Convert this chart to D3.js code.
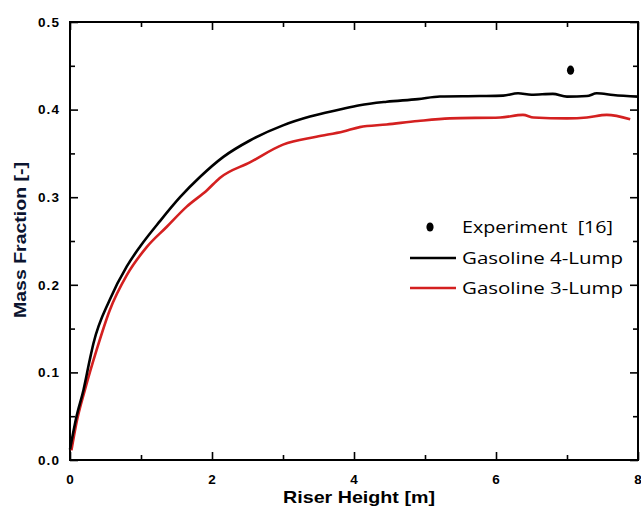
<!DOCTYPE html>
<html>
<head>
<meta charset="utf-8">
<script src="https://cdn.jsdelivr.net/npm/d3@7"></script>
<style>
  body { margin: 0; background: #fff; }
  svg { display: block; }
</style>
</head>
<body>
<div id="chart"></div>
<script>
// 4-lump model (black)
const lump4X = [0, 0.09, 0.19, 0.28, 0.33, 0.56, 0.8, 0.99, 1.27, 1.55, 1.83, 2.16, 2.54, 3.0, 3.38, 3.8, 4.08, 4.46, 4.9, 5.21, 5.77, 6.1, 6.31, 6.5, 6.8, 7.0, 7.28, 7.42, 7.65, 8.0];
const lump4Y = [0.012, 0.049, 0.08, 0.115, 0.133, 0.183, 0.221, 0.244, 0.273, 0.300, 0.323, 0.346, 0.365, 0.382, 0.392, 0.400, 0.405, 0.409, 0.412, 0.415, 0.4155, 0.416, 0.4186, 0.417, 0.418, 0.4148, 0.4155, 0.4186, 0.4167, 0.4148];
// 3-lump model (red)
const lump3X = [0.02, 0.09, 0.21, 0.376, 0.56, 0.8, 1.08, 1.36, 1.64, 1.93, 2.11, 2.54, 3.0, 3.47, 3.85, 4.08, 4.46, 4.9, 5.35, 6.06, 6.38, 6.53, 7.0, 7.28, 7.56, 7.89];
const lump3Y = [0.011, 0.042, 0.08, 0.126, 0.171, 0.211, 0.243, 0.266, 0.289, 0.308, 0.322, 0.340, 0.360, 0.369, 0.375, 0.380, 0.383, 0.387, 0.390, 0.391, 0.394, 0.391, 0.390, 0.391, 0.394, 0.389];
// experiment [16]
const expX = [7.05];
const expY = [0.445];

const xMajor = [0, 2, 4, 6, 8];
const xMinor = [1, 3, 5, 7];
const yMajor = [0, 0.1, 0.2, 0.3, 0.4, 0.5];
const yMinor = [0.05, 0.15, 0.25, 0.35, 0.45];

const width = 641, height = 506;
const plotL = 70, plotR = 638, plotT = 22, plotB = 460;

const svg = d3.select("#chart").append("svg")
    .attr("width", width)
    .attr("height", height);

const x = d3.scaleLinear().domain([0, 8]).range([plotL, plotR]);
const y = d3.scaleLinear().domain([0, 0.5]).range([plotB, plotT]);

const tickFont = "'Liberation Sans', Arial, sans-serif";

// axes: ticks point inward on all four sides
function addAxis(axis, tx, ty, labels) {
  const g = svg.append("g")
      .attr("transform", `translate(${tx},${ty})`)
      .call(axis);
  g.select(".domain").remove();
  g.selectAll(".tick line").attr("stroke", "#000").attr("stroke-width", 1.6);
  if (!labels) g.selectAll(".tick text").remove();
  else g.selectAll(".tick text")
      .attr("font-family", tickFont)
      .attr("font-weight", "bold")
      .attr("font-size", 13.5)
      .attr("letter-spacing", 1.1)
      .attr("fill", "#000");
  return g;
}

addAxis(d3.axisBottom(x).tickValues(xMajor).tickSize(-8).tickPadding(14).tickFormat(d3.format("d")), 0, plotB, true);
addAxis(d3.axisBottom(x).tickValues(xMinor).tickSize(-5), 0, plotB, false);
addAxis(d3.axisTop(x).tickValues(xMajor).tickSize(-8), 0, plotT, false);
addAxis(d3.axisTop(x).tickValues(xMinor).tickSize(-5), 0, plotT, false);
addAxis(d3.axisLeft(y).tickValues(yMajor).tickSize(-8).tickPadding(10).tickFormat(d3.format(".1f")), plotL, 0, true);
addAxis(d3.axisLeft(y).tickValues(yMinor).tickSize(-5), plotL, 0, false);
addAxis(d3.axisRight(y).tickValues(yMajor).tickSize(-8), plotR, 0, false);
addAxis(d3.axisRight(y).tickValues(yMinor).tickSize(-5), plotR, 0, false);

svg.append("rect")
    .attr("x", plotL).attr("y", plotT)
    .attr("width", plotR - plotL).attr("height", plotB - plotT)
    .attr("fill", "none").attr("stroke", "#000").attr("stroke-width", 2);

// curves
const line = d3.line()
    .x(d => x(d[0]))
    .y(d => y(d[1]))
    .curve(d3.curveMonotoneX);

svg.append("path")
    .datum(lump3X.map((v, i) => [v, lump3Y[i]]))
    .attr("d", line)
    .attr("fill", "none").attr("stroke", "#d42020").attr("stroke-width", 2.6);

svg.append("path")
    .datum(lump4X.map((v, i) => [v, lump4Y[i]]))
    .attr("d", line)
    .attr("fill", "none").attr("stroke", "#000").attr("stroke-width", 2.6);

svg.selectAll(".exp")
  .data(expX.map((v, i) => [v, expY[i]]))
  .join("ellipse")
    .attr("cx", d => x(d[0]))
    .attr("cy", d => y(d[1]))
    .attr("rx", 3.6).attr("ry", 4.6)
    .attr("fill", "#000");

// axis titles
svg.append("text")
    .attr("x", 359).attr("y", 503)
    .attr("text-anchor", "middle")
    .attr("font-family", tickFont).attr("font-weight", "bold").attr("font-size", 17)
    .attr("textLength", 152).attr("lengthAdjust", "spacingAndGlyphs")
    .text("Riser Height [m]");

svg.append("text")
    .attr("transform", "translate(26,240) rotate(-90)")
    .attr("text-anchor", "middle")
    .attr("font-family", tickFont).attr("font-weight", "bold").attr("font-size", 16)
    .attr("textLength", 156).attr("lengthAdjust", "spacingAndGlyphs")
    .attr("fill", "#0b1430")
    .text("Mass Fraction [-]");

// legend
const legFont = "'Open Sans', 'Liberation Sans', sans-serif";
const legend = svg.append("g");
legend.append("ellipse").attr("cx", 430).attr("cy", 227).attr("rx", 3.6).attr("ry", 4.6).attr("fill", "#000");
legend.append("text").attr("x", 462).attr("y", 233)
    .attr("font-family", legFont).attr("font-size", 16)
    .attr("textLength", 151).attr("lengthAdjust", "spacingAndGlyphs")
    .attr("xml:space", "preserve")
    .text("Experiment  [16]");
legend.append("line").attr("x1", 410).attr("x2", 456).attr("y1", 258).attr("y2", 258)
    .attr("stroke", "#000").attr("stroke-width", 2.6);
legend.append("text").attr("x", 462).attr("y", 264)
    .attr("font-family", legFont).attr("font-size", 16)
    .attr("textLength", 161).attr("lengthAdjust", "spacingAndGlyphs")
    .text("Gasoline 4-Lump");
legend.append("line").attr("x1", 410).attr("x2", 456).attr("y1", 288).attr("y2", 288)
    .attr("stroke", "#d42020").attr("stroke-width", 2.6);
legend.append("text").attr("x", 462).attr("y", 294)
    .attr("font-family", legFont).attr("font-size", 16)
    .attr("textLength", 161).attr("lengthAdjust", "spacingAndGlyphs")
    .text("Gasoline 3-Lump");
</script>
</body>
</html>
